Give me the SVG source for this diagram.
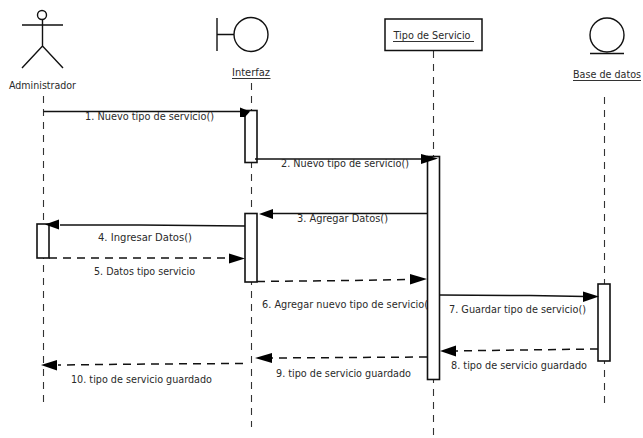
<svg xmlns="http://www.w3.org/2000/svg" width="643" height="438" viewBox="0 0 643 438">
<style>
text{font-family:"DejaVu Sans","Liberation Sans",sans-serif;font-size:10px;fill:#2a2a2a}
.c{text-anchor:middle}
.s{fill:none;stroke:#111;stroke-width:1.4}
.u{fill:none;stroke:#333;stroke-width:1}
.life{fill:none;stroke:#333;stroke-width:1.1;stroke-dasharray:7 6}
.act{fill:#fff;stroke:#111;stroke-width:1.6}
.msg{fill:none;stroke:#111;stroke-width:1.5}
.dash{fill:none;stroke:#111;stroke-width:1.5;stroke-dasharray:8 6}
.head{fill:#000}
</style>
<rect width="643" height="438" fill="#fff"/>
<g id="lifelines">
<path class="life" d="M43.500 96V402"/>
<path class="life" d="M251.500 83V427"/>
<path class="life" d="M433.500 51V438"/>
<path class="life" d="M604.500 97V408"/>
</g>
<g id="node-administrador">
<circle class="s" cx="42" cy="15" r="4.500"/>
<path class="s" d="M22 25H63M42.500 20V46M22 68L42.500 46L63 68"/>
<text class="c" x="42.500" y="89" textLength="67" lengthAdjust="spacingAndGlyphs">Administrador</text>
</g>
<g id="node-interfaz">
<path class="s" d="M217 18V51M217 34.500H234"/>
<circle class="s" cx="251" cy="34.500" r="17"/>
<text class="c" x="251" y="76" textLength="38" lengthAdjust="spacingAndGlyphs">Interfaz</text>
<path class="u" d="M232 78.500H270.500"/>
</g>
<g id="node-tipo-servicio">
<rect x="385" y="19" width="97" height="31.500" fill="#fff" stroke="#111" stroke-width="1.500"/>
<text class="c" x="432" y="39" textLength="77" lengthAdjust="spacingAndGlyphs">Tipo de Servicio</text>
<path class="u" d="M393 41.500H474"/>
</g>
<g id="node-base-datos">
<circle class="s" cx="607" cy="35" r="17"/>
<path class="s" d="M590 53.500H624"/>
<text class="c" x="607" y="78" textLength="68" lengthAdjust="spacingAndGlyphs">Base de datos</text>
<path class="u" d="M573 80.500H641"/>
</g>
<g id="activations">
<rect class="act" x="245" y="110.500" width="12" height="52"/>
<rect class="act" x="427.500" y="156.500" width="12" height="223"/>
<rect class="act" x="245" y="213.500" width="12" height="68.500"/>
<rect class="act" x="37" y="224" width="12" height="34"/>
<rect class="act" x="598" y="284" width="12" height="77"/>
</g>
<g id="connectors">
<path class="msg" d="M43.500 111.500H240"/><path class="head" d="M240 107.500L250 111.500L245 117H240Z"/>
<path class="msg" d="M255 159H422"/><path class="head" d="M421 154L438 158.500L421 164Z"/>
<path class="msg" d="M427 213.500H272"/><path class="head" d="M259 214L273 209V219Z"/>
<path class="msg" d="M245 226L140 225L60 225"/><path class="head" d="M45 224.500L59 219.500V229.500Z"/>
<path class="dash" d="M49 258H230"/><path class="head" d="M245 258.500L229 253.500V263.500Z"/>
<path class="dash" d="M257 281.500L350 280.500L412 279.500"/><path class="head" d="M427 279L410 274V284.500Z"/>
<path class="msg" d="M439.500 295L530 295.500L585 296.500"/><path class="head" d="M599 296.500L583 291.500V302Z"/>
<path class="dash" d="M598 349L520 350L450 351"/><path class="head" d="M440 351L456 345.500V356.500Z"/>
<path class="dash" d="M427 357L272 358"/><path class="head" d="M255 358L272 353V363Z"/>
<path class="dash" d="M243 363.500L150 364L58 365"/><path class="head" d="M41 365L57 360V370.500Z"/>
</g>
<g id="labels">
<text x="85" y="120" textLength="129" lengthAdjust="spacingAndGlyphs">1. Nuevo tipo de servicio()</text>
<text x="281" y="167" textLength="128" lengthAdjust="spacingAndGlyphs">2. Nuevo tipo de servicio()</text>
<text x="297" y="222" textLength="91" lengthAdjust="spacingAndGlyphs">3. Agregar Datos()</text>
<text x="98" y="241" textLength="94" lengthAdjust="spacingAndGlyphs">4. Ingresar Datos()</text>
<text x="94" y="274.500" textLength="101" lengthAdjust="spacingAndGlyphs">5. Datos tipo servicio</text>
<text x="262" y="307.500" textLength="166" lengthAdjust="spacingAndGlyphs">6. Agregar nuevo tipo de servicio(</text>
<text x="449" y="313" textLength="137" lengthAdjust="spacingAndGlyphs">7. Guardar tipo de servicio()</text>
<text x="451" y="369" textLength="136" lengthAdjust="spacingAndGlyphs">8. tipo de servicio guardado</text>
<text x="276" y="377" textLength="135" lengthAdjust="spacingAndGlyphs">9. tipo de servicio guardado</text>
<text x="71" y="383" textLength="141" lengthAdjust="spacingAndGlyphs">10. tipo de servicio guardado</text>
</g>
</svg>
